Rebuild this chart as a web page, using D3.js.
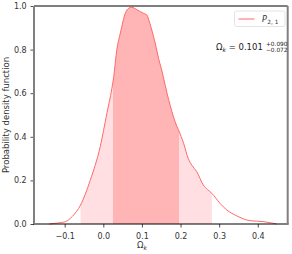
<!DOCTYPE html>
<html><head><meta charset="utf-8">
<script src="https://cdn.jsdelivr.net/npm/d3@7"></script>
<style>body{margin:0;background:#fff}svg{display:block}text{font-family:"DejaVu Sans",sans-serif}</style>
</head><body>
<script>
const omegaK = [-0.14,-0.12,-0.098,-0.08,-0.059,-0.034,-0.008,0.0095,0.022,0.027,0.035,0.044,0.057,0.066,0.074,0.085,0.096,0.105,0.113,0.117,0.124,0.13,0.137,0.143,0.15,0.156,0.165,0.173,0.182,0.19,0.195,0.208,0.22,0.23,0.242,0.259,0.27,0.281,0.302,0.32,0.345,0.38,0.414,0.435,0.449];
const density = [0.0,0.004,0.011,0.035,0.087,0.20,0.355,0.51,0.62,0.676,0.80,0.875,0.967,0.99,0.994,0.985,0.974,0.966,0.959,0.94,0.90,0.86,0.81,0.76,0.715,0.67,0.60,0.545,0.49,0.45,0.43,0.37,0.30,0.268,0.24,0.179,0.158,0.141,0.095,0.064,0.038,0.015,0.011,0.005,0.0];
const interval68 = [0.025, 0.196];
const interval95 = [-0.059, 0.281];
const xTicks = [-0.1,0.0,0.1,0.2,0.3,0.4];
const yTicks = [0.0,0.2,0.4,0.6,0.8,1.0];
const legendLabel = "P";
const meanVal = "0.101", upErr = "+0.090", loErr = "\u22120.072";

const W=292,H=254, L=34, R=287.7, T=6, B=224;
const svg=d3.select("body").append("svg").attr("width",W).attr("height",H);
const x=d3.scaleLinear().domain([-0.1795,0.4775]).range([L,R]);
const y=d3.scaleLinear().domain([0,1]).range([B,T]);
const data=omegaK.map((v,i)=>({x:v,y:density[i]}));
const curve=d3.curveMonotoneX;
const interp = v => { for(let i=1;i<data.length;i++){ if(v<=data[i].x){const a=data[i-1],b=data[i];return a.y+(b.y-a.y)*(v-a.x)/(b.x-a.x);} } return 0; };
function region(lo,hi){
  const pts=[{x:lo,y:interp(lo)}].concat(data.filter(d=>d.x>lo&&d.x<hi)).concat([{x:hi,y:interp(hi)}]);
  return pts;
}
const area=d3.area().x(d=>x(d.x)).y0(y(0)).y1(d=>y(d.y)).curve(curve);
svg.append("path").datum(region(...interval95)).attr("d",area).attr("fill","#ffdfe1");
svg.append("path").datum(region(...interval68)).attr("d",area).attr("fill","#ffb4b6");
svg.append("path").datum(data).attr("d",d3.line().x(d=>x(d.x)).y(d=>y(d.y)).curve(curve)).attr("fill","none").attr("stroke","#ff6a6a").attr("stroke-width",1);

// axes
const xa=svg.append("g").attr("transform",`translate(0,${B})`).call(d3.axisBottom(x).tickValues(xTicks).tickSize(3.5).tickFormat(d=>d3.format(".1f")(d).replace("-","\u2212")));
const ya=svg.append("g").attr("transform",`translate(${L},0)`).call(d3.axisLeft(y).tickValues(yTicks).tickSize(3.5).tickFormat(d3.format(".1f")));
[xa,ya].forEach(g=>{g.select(".domain").remove();g.selectAll("line").attr("stroke","#222").attr("stroke-width",0.8);g.selectAll("text").attr("font-size",8).attr("fill","#333").attr("font-family","DejaVu Sans");});
xa.selectAll("text").attr("dy","1.1em");
ya.selectAll("text").attr("dx","-0.1em");
// spines
svg.append("line").attr("x1",L).attr("x2",R).attr("y1",T).attr("y2",T).attr("stroke","#000").attr("stroke-width",1.2);
svg.append("line").attr("x1",L-1).attr("x2",R+1).attr("y1",B).attr("y2",B).attr("stroke","#000").attr("stroke-width",1.2);
svg.append("line").attr("x1",L).attr("x2",L).attr("y1",T).attr("y2",B).attr("stroke","#808080").attr("stroke-width",2);
svg.append("line").attr("x1",R).attr("x2",R).attr("y1",T).attr("y2",B).attr("stroke","#808080").attr("stroke-width",2);

// labels
svg.append("text").attr("transform",`translate(9,${(T+B)/2}) rotate(-90)`).attr("text-anchor","middle").attr("font-size",8.5).attr("fill","#333").text("Probability density function");
const xl=svg.append("text").attr("x",x(0.1)).attr("y",248).attr("text-anchor","middle").attr("font-size",8.5).attr("fill","#333");
xl.append("tspan").text("\u03A9");
xl.append("tspan").attr("font-size",6).attr("font-style","italic").attr("dy",2).text("k");

// legend
const lg=svg.append("g");
lg.append("rect").attr("x",234.5).attr("y",11).attr("width",50.5).attr("height",15.5).attr("rx",2).attr("fill","#fff").attr("stroke","#ddd").attr("stroke-width",0.8);
lg.append("line").attr("x1",238.5).attr("x2",254.5).attr("y1",19).attr("y2",19).attr("stroke","#ff6a6a").attr("stroke-width",1);
const lt=lg.append("text").attr("x",262).attr("y",22).attr("font-size",8).attr("fill","#333");
lt.append("tspan").attr("font-style","italic").text(legendLabel);
lt.append("tspan").attr("font-size",5.8).attr("dy",1.8).attr("dx",0.5).text("2, 1");

// annotation
const an=svg.append("text").attr("x",216).attr("y",50).attr("font-size",8.5).attr("fill","#222");
an.append("tspan").text("\u03A9");
an.append("tspan").attr("font-size",6).attr("font-style","italic").attr("dy",1.5).text("k");
an.append("tspan").attr("dy",-1.5).text(" = "+meanVal);
svg.append("text").attr("x",266).attr("y",45.5).attr("font-size",5.8).attr("fill","#222").text(upErr);
svg.append("text").attr("x",266).attr("y",52).attr("font-size",5.8).attr("fill","#222").text(loErr);
</script>
</body></html>
